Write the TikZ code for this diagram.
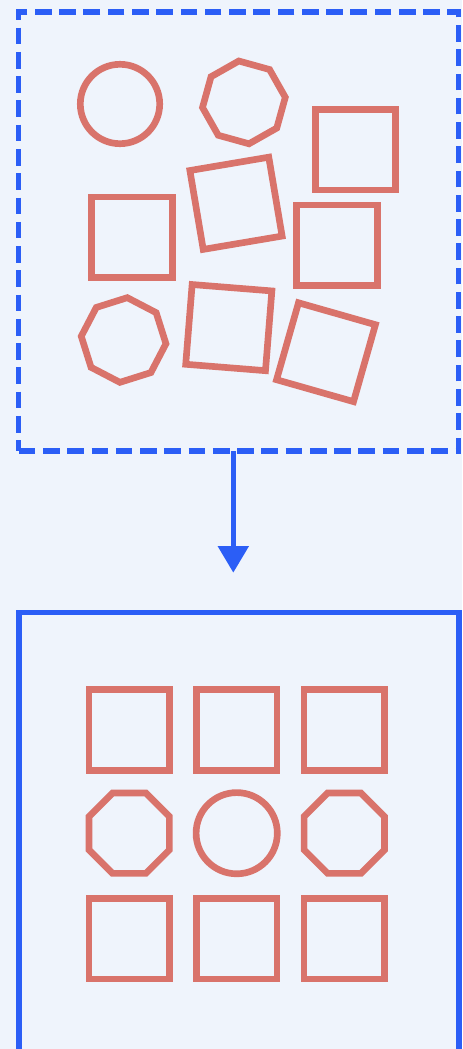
\documentclass[tikz,border=0pt]{standalone}
\usetikzlibrary{arrows.meta}
\definecolor{bgc}{RGB}{239,244,252}
\definecolor{blu}{RGB}{43,94,246}
\definecolor{shp}{RGB}{217,115,107}
\begin{document}
\begin{tikzpicture}[x=0.75pt,y=0.75pt,
  box/.style={draw=blu,line width=4pt,rectangle,inner sep=0pt,outer sep=0pt,
     minimum width=330pt,minimum height=329.25pt},
  dashbox/.style={box,dash pattern=on 12.5pt off 5.7pt},
  redshape/.style={draw=shp,line width=5pt,line join=miter},
  flow/.style={draw=blu,line width=4pt,-{Triangle[width=22.5pt,length=20pt]}}]
\fill[bgc] (0,0) rectangle (462,-1049);
\useasboundingbox (0,0) rectangle (462,-1049);
\clip (0,0) rectangle (462,-1049);
% boxes
\node[dashbox] (src) at (238.75,-231.5) {};
\node[box] (dst) at (239,-832) {};
\coordinate (tip) at (233.3,-572.7);
\draw[flow] (tip |- src.south) -- (tip);
% scattered shapes (top)
\draw[redshape] (120,-104) circle (39.7);
\draw[redshape,shift={(243.9,-102.4)},rotate=7] (0:41.7) \foreach \k in {1,...,7}{ -- (\k*45:41.7)} -- cycle;
\draw[redshape] (355.4,-149.7) +(-40.2,-40.2) rectangle +(40.2,40.2);
\draw[redshape,shift={(236,-203.3)},rotate=9.6] (-40,-40) rectangle (40,40);
\draw[redshape] (132,-237.3) +(-40.2,-40.2) rectangle +(40.2,40.2);
\draw[redshape] (337,-245.2) +(-40.2,-40.2) rectangle +(40.2,40.2);
\draw[redshape,shift={(123.6,-340)},rotate=-5] (0:42.5) \foreach \k in {1,...,7}{ -- (\k*45:42.5)} -- cycle;
\draw[redshape,shift={(228.8,-327.6)},rotate=-4.6] (-40,-40) rectangle (40,40);
\draw[redshape,shift={(326,-352.2)},rotate=-15.9] (-40,-40) rectangle (40,40);
% ordered grid (bottom)
\foreach \cx in {129.2,236.7,344.3}{
  \draw[redshape] (\cx,-730) +(-40.2,-40.2) rectangle +(40.2,40.2);
  \draw[redshape] (\cx,-938.8) +(-40.2,-40.2) rectangle +(40.2,40.2);
}
\foreach \cx in {129.2,344.3}{
  \draw[redshape,shift={(\cx,-833.2)},rotate=22.5] (0:43.5) \foreach \k in {1,...,7}{ -- (\k*45:43.5)} -- cycle;
}
\draw[redshape] (236.7,-833.2) circle (40.6);
\end{tikzpicture}
\end{document}
